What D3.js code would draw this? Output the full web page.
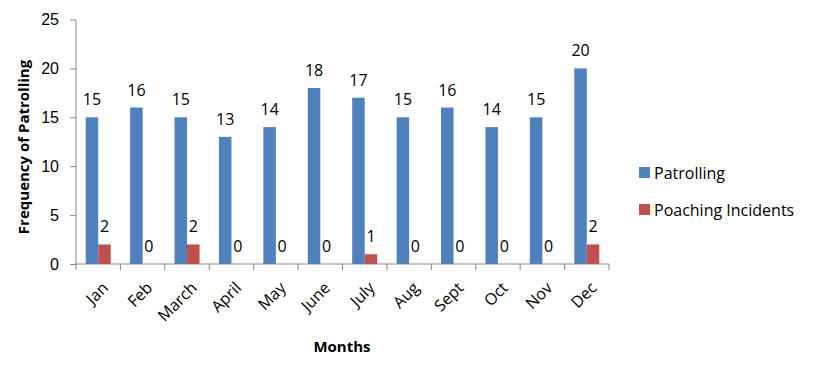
<!DOCTYPE html>
<html>
<head>
<meta charset="utf-8">
<script src="https://cdn.jsdelivr.net/npm/d3@7"></script>
<style>
  body { margin: 0; background: #fff; }
  svg { display: block; font-family: "Open Sans", sans-serif; }
  .axis path, .axis line { stroke: #888; }
  .axis text { font-size: 16px; fill: #000; }
  .lbl { font-size: 16px; fill: #000; }
  .title { font-size: 15px; font-weight: bold; fill: #000; }
</style>
</head>
<body>
<svg width="820" height="382"></svg>
<script>
// chart data
const months = ["Jan", "Feb", "March", "April", "May", "June", "July", "Aug", "Sept", "Oct", "Nov", "Dec"];
const patrolling = [15, 16, 15, 13, 14, 18, 17, 15, 16, 14, 15, 20];
const poaching = [2, 0, 2, 0, 0, 0, 1, 0, 0, 0, 0, 2];
const seriesNames = ["Patrolling", "Poaching Incidents"];
const colors = ["#4F81BD", "#C0504D"];
const yTicks = [0, 5, 10, 15, 20, 25];

const svg = d3.select("svg");
const plotL = 76, plotR = 609, plotT = 19.5, plotB = 264;

const rows = months.map((m, i) => ({ month: m, values: [patrolling[i], poaching[i]] }));

const x0 = d3.scaleBand().domain(months).range([plotL, plotR])
  .paddingInner(0.437).paddingOuter(0.2185);
const x1 = d3.scaleBand().domain([0, 1]).range([0, x0.bandwidth()]);
const y = d3.scaleLinear().domain([0, 25]).range([plotB, plotT]);

// y axis
const yAxis = svg.append("g").attr("class", "axis")
  .attr("transform", `translate(${plotL},0)`)
  .call(d3.axisLeft(y).tickValues(yTicks).tickSize(6).tickPadding(11).tickSizeOuter(0));
yAxis.select(".domain").attr("d", `M0,${plotB}V${plotT}`);

// x axis with ticks at band boundaries
const xg = svg.append("g").attr("class", "axis");
xg.append("line").attr("x1", plotL).attr("x2", plotR).attr("y1", plotB).attr("y2", plotB);
const step = x0.step();
xg.selectAll(".tk").data(d3.range(months.length + 1)).enter().append("line")
  .attr("x1", i => plotL + i * step).attr("x2", i => plotL + i * step)
  .attr("y1", plotB).attr("y2", plotB + 6);
xg.selectAll(".ml").data(months).enter().append("text")
  .attr("text-anchor", "end")
  .attr("transform", d => `translate(${x0(d) + x0.bandwidth() / 2 + 3},${plotB + 17}) rotate(-45)`)
  .attr("dy", "0.7em")
  .text(d => d);

// bars
const grp = svg.append("g").selectAll("g").data(rows).enter().append("g")
  .attr("transform", d => `translate(${x0(d.month)},0)`);
grp.selectAll("rect").data(d => d.values).enter().append("rect")
  .attr("x", (v, i) => x1(i))
  .attr("width", x1.bandwidth())
  .attr("y", v => y(v))
  .attr("height", v => plotB - y(v))
  .attr("fill", (v, i) => colors[i]);
grp.selectAll("text").data(d => d.values).enter().append("text")
  .attr("class", "lbl")
  .attr("text-anchor", "middle")
  .attr("x", (v, i) => x1(i) + x1.bandwidth() / 2)
  .attr("y", v => y(v) - 12)
  .text(v => v);

// axis titles
svg.append("text").attr("class", "title")
  .attr("text-anchor", "middle")
  .attr("transform", `translate(29,147) rotate(-90)`)
  .text("Frequency of Patrolling");
svg.append("text").attr("class", "title")
  .attr("text-anchor", "middle")
  .attr("x", 342).attr("y", 352)
  .text("Months");

// legend
const lg = svg.append("g").selectAll("g").data(seriesNames).enter().append("g")
  .attr("transform", (d, i) => `translate(639,${167 + i * 37})`);
lg.append("rect").attr("width", 11).attr("height", 11).attr("fill", (d, i) => colors[i]);
lg.append("text").attr("class", "lbl").attr("x", 15).attr("y", 12).text(d => d);
</script>
</body>
</html>
